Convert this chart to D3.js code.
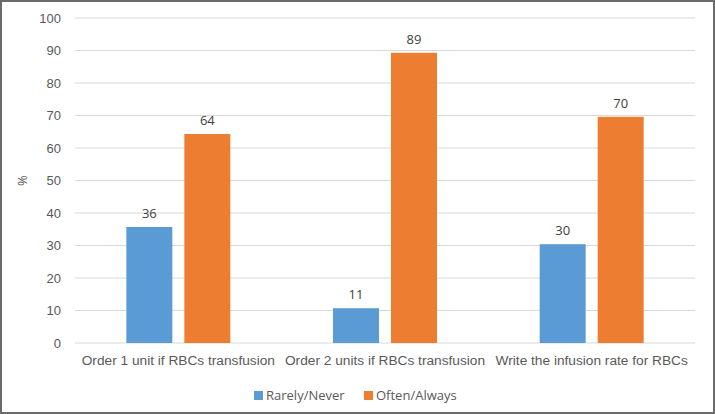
<!DOCTYPE html>
<html><head><meta charset="utf-8">
<script src="https://cdn.jsdelivr.net/npm/d3@7"></script>
<style>
html,body{margin:0;padding:0;background:#fff;}
svg{display:block;font-family:"Open Sans","Noto Sans",sans-serif;}
</style></head>
<body><svg id="c" width="715" height="414"></svg>
<script>
const categories = ["Order 1 unit if RBCs transfusion","Order 2 units if RBCs transfusion","Write the infusion rate for RBCs"];
const seriesNames = ["Rarely/Never","Often/Always"];
const rarelyNever = [35.7, 10.7, 30.4];
const oftenAlways = [64.3, 89.3, 69.6];
const yTicks = [0,10,20,30,40,50,60,70,80,90,100];
const colors = ["#5b9bd5","#ed7d31"];

const svg = d3.select("#c");
const W = 715, H = 414;
const m = {left:75, right:20, top:18, bottom:71};
const x = d3.scaleBand().domain(categories).range([m.left, W-m.right]);
const y = d3.scaleLinear().domain([0,100]).range([H-m.bottom, m.top]);
const x1 = d3.scaleBand().domain(seriesNames).range([0, x.bandwidth()]).paddingInner(0.207).paddingOuter(0.885);

// border
svg.append("rect").attr("x",1).attr("y",1).attr("width",W-2).attr("height",H-2)
  .attr("fill","none").attr("stroke","#6b6b6b").attr("stroke-width",2);

// grid
svg.append("g").selectAll("line").data(yTicks).join("line")
  .attr("x1",m.left).attr("x2",W-m.right)
  .attr("y1",d=>y(d)).attr("y2",d=>y(d))
  .attr("stroke","#d9d9d9").attr("stroke-width",1);

// y axis
const ya = svg.append("g").attr("transform",`translate(${m.left},0)`)
  .call(d3.axisLeft(y).tickValues(yTicks).tickSize(0).tickPadding(14));
ya.select(".domain").remove();
ya.selectAll("text").attr("fill","#595959").style("font-size","13px");

// y title
svg.append("text").attr("transform",`translate(27,${(m.top+H-m.bottom)/2}) rotate(-90)`)
  .attr("text-anchor","middle").attr("fill","#595959").style("font-size","13px").text("%");

// x axis
const xa = svg.append("g").attr("transform",`translate(0,${H-m.bottom})`)
  .call(d3.axisBottom(x).tickSize(0).tickPadding(12));
xa.select(".domain").remove();
xa.selectAll("text").attr("fill","#595959").style("font-size","13.7px");

const data = categories.map((c,i)=>({c, vals:[rarelyNever[i], oftenAlways[i]]}));
const g = svg.append("g").selectAll("g").data(data).join("g")
  .attr("transform",d=>`translate(${x(d.c)},0)`);
g.selectAll("rect").data(d=>d.vals.map((v,j)=>({s:seriesNames[j],v,j}))).join("rect")
  .attr("x",d=>x1(d.s)).attr("width",x1.bandwidth())
  .attr("y",d=>y(d.v)).attr("height",d=>y(0)-y(d.v))
  .attr("fill",d=>colors[d.j]);
g.selectAll("text.lbl").data(d=>d.vals.map((v,j)=>({s:seriesNames[j],v,j}))).join("text")
  .attr("class","lbl")
  .attr("x",d=>x1(d.s)+x1.bandwidth()/2).attr("y",d=>y(d.v)-9)
  .attr("text-anchor","middle").attr("fill","#404040").style("font-size","13px")
  .text(d=>Math.round(d.v));

// legend
const lg = svg.append("g");
const items = [{n:seriesNames[0],c:colors[0],x:254},{n:seriesNames[1],c:colors[1],x:364}];
items.forEach(it=>{
  lg.append("rect").attr("x",it.x).attr("y",391).attr("width",9).attr("height",9).attr("fill",it.c);
  lg.append("text").attr("x",it.x+12).attr("y",400).attr("fill","#595959").style("font-size","13px").text(it.n);
});
</script></body></html>
